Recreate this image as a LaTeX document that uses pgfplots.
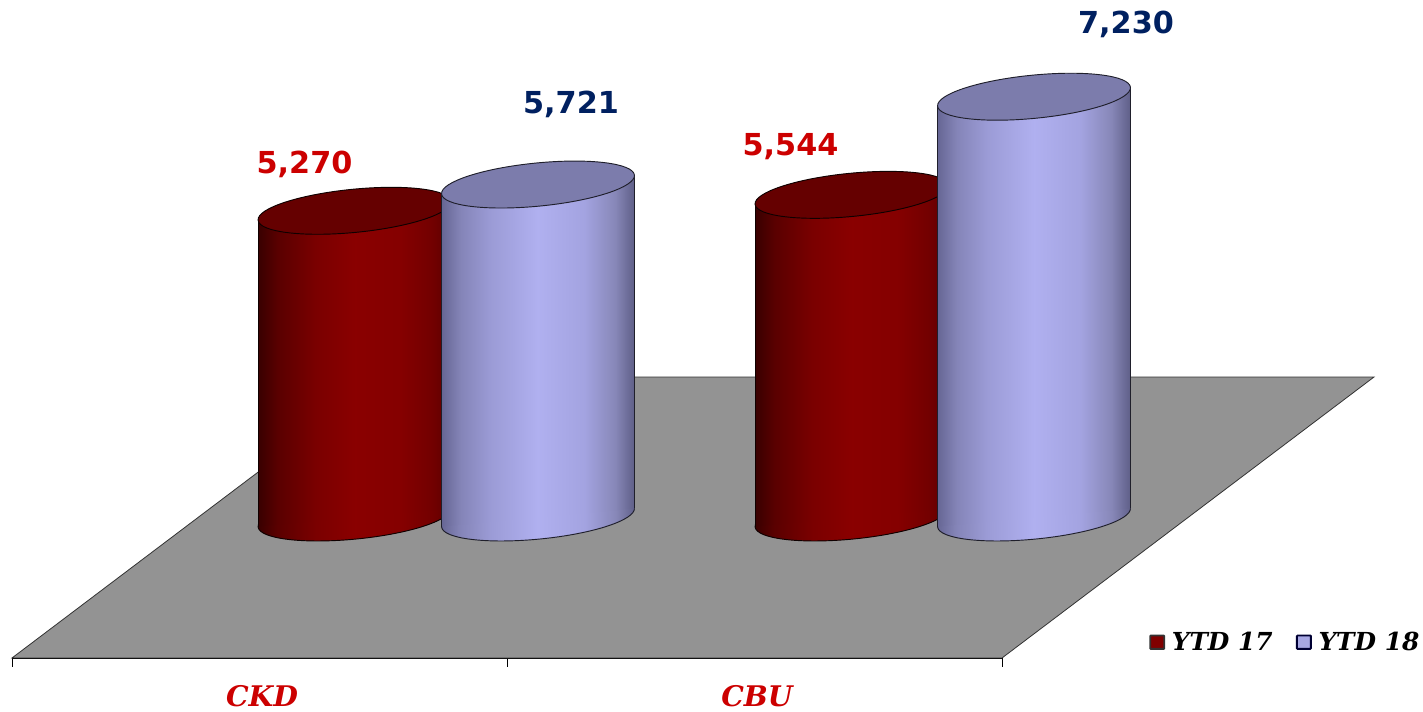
\documentclass[border=0pt]{standalone}
\usepackage{fontspec}
\usepackage{pgfplots}
\pgfplotsset{compat=1.18}
\setmainfont{DejaVu Sans}
\newfontfamily\catfont{DejaVu Serif}

% 1 reference pixel = 0.75pt
\definecolor{floorgray}{HTML}{939393}
\definecolor{redtop}{HTML}{650000}
\definecolor{bluetop}{HTML}{7C7CAC}
\definecolor{redlabel}{HTML}{CC0000}
\definecolor{bluelabel}{HTML}{002060}
\definecolor{redbar}{HTML}{800000}
\definecolor{bluebar}{HTML}{A8A8E4}

% the middle 50bp of a shading covers the path
\pgfdeclarehorizontalshading{redcyl}{100bp}{
  rgb(0bp)=(0.22,0,0); rgb(25bp)=(0.22,0,0);
  rgb(30bp)=(0.35,0,0); rgb(40bp)=(0.48,0,0); rgb(50bp)=(0.54,0,0);
  rgb(62bp)=(0.52,0,0); rgb(70bp)=(0.45,0,0); rgb(75bp)=(0.36,0,0); rgb(100bp)=(0.36,0,0)}
\pgfdeclarehorizontalshading{bluecyl}{100bp}{
  rgb(0bp)=(0.40,0.40,0.58); rgb(25bp)=(0.40,0.40,0.58);
  rgb(30bp)=(0.52,0.52,0.72); rgb(38bp)=(0.61,0.61,0.84); rgb(50bp)=(0.69,0.69,0.94);
  rgb(62bp)=(0.64,0.64,0.88); rgb(70bp)=(0.53,0.53,0.72); rgb(75bp)=(0.37,0.37,0.53); rgb(100bp)=(0.37,0.37,0.53)}

\newcommand{\capellipse}{\pgfpathellipse{\pgfpointorigin}{\pgfpoint{72.32pt}{7.09pt}}{\pgfpoint{-1.58pt}{16.12pt}}}
\pgfdeclareplotmark{cylcap}{\capellipse\pgfusepathqfillstroke}
\pgfdeclareplotmark{redbase}{\capellipse\pgfshadepath{redcyl}{0}\pgfusepathqstroke}
\pgfdeclareplotmark{bluebase}{\capellipse\pgfshadepath{bluecyl}{0}\pgfusepathqstroke}

% x, value, base mark, shading, top colour, edge colour, label shift x, label shift y, label colour
\newcommand{\cyl}[9]{%
  \addplot[forget plot,only marks,mark=#3,mark options={draw=#6,line width=0.7pt}] coordinates {(#1,0)};
  \addplot[forget plot,ybar,bar width=144.75pt,bar shift=0pt,draw=none,shade,shading=#4,
    yslant=0.0933,yshift={-0.0933*(#1-12)*0.75}] coordinates {(#1,#2)};
  \addplot[forget plot,sharp plot,no marks,draw=#6,line width=0.6pt,
    yslant=0.0933,yshift={-0.0933*(#1-12)*0.75},xshift=-72.37pt] coordinates {(#1,0) (#1,#2)};
  \addplot[forget plot,sharp plot,no marks,draw=#6,line width=0.6pt,
    yslant=0.0933,yshift={-0.0933*(#1-12)*0.75},xshift=72.37pt] coordinates {(#1,0) (#1,#2)};
  \addplot[forget plot,only marks,mark=cylcap,mark options={fill=#5,draw=#6,line width=0.7pt},
    nodes near coords,
    every node near coord/.append style={anchor=center,xshift=#7,yshift=#8,text=#9,
      font=\fontsize{22.7}{28}\selectfont\bfseries,inner sep=0pt,
      /pgf/number format/assume math mode=true,
      /pgf/number format/fixed,/pgf/number format/1000 sep={,}}]
    coordinates {(#1,#2)};
}

\begin{document}
\begin{tikzpicture}
\path[use as bounding box] (0,0) rectangle (1067.25pt,534pt);
\begin{axis}[
    at={(9pt,40.5pt)},anchor=south west,
    scale only axis,
    width=742.5pt,height=493.5pt,
    xmin=12,xmax=1002,
    ymin=-2414,ymax=8892,
    clip=false,
    clip mode=individual,
    axis y line=none,
    axis x line*=bottom,
    axis line style={black,line width=1.3pt},
    xtick={12,507,1002},
    xticklabels={},
    tick align=outside,
    major tick length=6.75pt,
    tick style={black,line width=0.6pt},
    extra x ticks={262,757},
    extra x tick labels={CKD,CBU},
    extra x tick style={major tick length=0pt,
      tick label style={font=\catfont\fontsize{21.3}{26}\selectfont\bfseries\itshape,
        text=redlabel,anchor=center,yshift=-28.5pt}},
    legend columns=2,
    legend style={at={(1.1485,0.024)},anchor=west,draw=none,fill=none,inner sep=0pt,
      nodes={inner sep=0pt},
      font=\catfont\fontsize{18.6}{21}\selectfont\bfseries\itshape,
      /tikz/column 1/.style={column sep=5pt},
      /tikz/column 2/.style={column sep=17.5pt},
      /tikz/column 3/.style={column sep=5pt}},
    legend image code/.code={\draw[#1,line width=1.4pt,rounded corners=0.5pt] (0pt,-5pt) rectangle (10.5pt,5pt);},
  ]
  % floor
  \addplot[forget plot,fill=floorgray,draw=black!80,line width=0.6pt]
    coordinates {(12,-2414) (1002,-2414) (1374,2414) (384,2414)} --cycle;
  \cyl{354.5}{5270}{redbase}{redcyl}{redtop}{black!85!redtop}{-37.5pt}{34.5pt}{redlabel}
  \cyl{538}{5721}{bluebase}{bluecyl}{bluetop}{black!75!bluetop}{24.75pt}{60pt}{bluelabel}
  \cyl{851.5}{5544}{redbase}{redcyl}{redtop}{black!85!redtop}{-45.75pt}{36pt}{redlabel}
  \cyl{1034}{7230}{bluebase}{bluecyl}{bluetop}{black!75!bluetop}{69pt}{54pt}{bluelabel}
  \addlegendimage{fill=redbar,draw=black!80}
  \addlegendentry{YTD 17}
  \addlegendimage{fill=bluebar,draw=black!80!blue}
  \addlegendentry{YTD 18}
\end{axis}
\end{tikzpicture}
\end{document}
